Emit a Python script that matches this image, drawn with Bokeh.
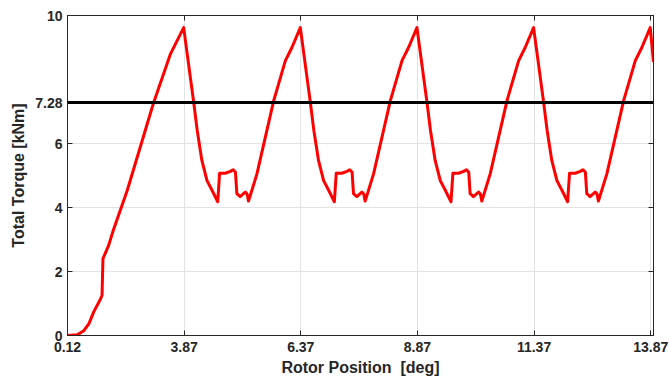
from bokeh.plotting import figure
from bokeh.models import FixedTicker, LinearAxis, Range1d, Span
from bokeh.embed import file_html
from bokeh.resources import INLINE

# ---- data ----
x_ticks = [1.37, 3.87, 6.37, 8.87, 11.37, 13.87]
x_tick_labels = ["0.12", "3.87", "6.37", "8.87", "11.37", "13.87"]
y_ticks = [0, 2, 4, 6, 7.28, 10]
y_tick_labels = ["0", "2", "4", "6", "7.28", "10"]
mean_torque = 7.28

rotor_pos = [
    1.37, 1.58, 1.72, 1.83, 1.93, 2.08, 2.11, 2.13, 2.25, 2.35, 2.65, 3.21, 3.58,
    3.86, 4.07, 4.15, 4.25, 4.36, 4.47, 4.59, 4.63, 4.75, 4.86, 4.92, 4.97, 5.00,
    5.07, 5.18, 5.22, 5.25, 5.43, 5.79, 6.04, 6.18,
    6.36, 6.57, 6.65, 6.75, 6.86, 6.97, 7.09, 7.13, 7.25, 7.36, 7.42, 7.47, 7.50,
    7.57, 7.68, 7.72, 7.75, 7.93, 8.29, 8.54, 8.68,
    8.86, 9.07, 9.15, 9.25, 9.36, 9.47, 9.59, 9.63, 9.75, 9.86, 9.92, 9.97, 10.00,
    10.07, 10.18, 10.22, 10.25, 10.43, 10.79, 11.04, 11.18,
    11.36, 11.57, 11.65, 11.75, 11.86, 11.97, 12.09, 12.13, 12.25, 12.36, 12.42,
    12.47, 12.50, 12.57, 12.68, 12.72, 12.75, 12.93, 13.29, 13.54, 13.68,
    13.86, 13.93,
]
total_torque = [
    0.00, 0.02, 0.15, 0.37, 0.73, 1.15, 1.25, 2.40, 2.81, 3.28, 4.53, 7.25, 8.81,
    9.62, 7.34, 6.41, 5.47, 4.84, 4.53, 4.18, 5.07, 5.07, 5.13, 5.18, 5.10, 4.43,
    4.34, 4.48, 4.42, 4.20, 5.05, 7.34, 8.59, 9.00,
    9.62, 7.34, 6.41, 5.47, 4.84, 4.53, 4.18, 5.07, 5.07, 5.13, 5.18, 5.10, 4.43,
    4.34, 4.48, 4.42, 4.20, 5.05, 7.34, 8.59, 9.00,
    9.62, 7.34, 6.41, 5.47, 4.84, 4.53, 4.18, 5.07, 5.07, 5.13, 5.18, 5.10, 4.43,
    4.34, 4.48, 4.42, 4.20, 5.05, 7.34, 8.59, 9.00,
    9.62, 7.34, 6.41, 5.47, 4.84, 4.53, 4.18, 5.07, 5.07, 5.13, 5.18, 5.10, 4.43,
    4.34, 4.48, 4.42, 4.20, 5.05, 7.34, 8.59, 9.00,
    9.62, 8.55,
]

FONT = "Liberation Sans"
TXT = "#262626"

p = figure(width=669, height=385, output_backend="svg", toolbar_location=None,
           x_range=Range1d(1.37, 13.93), y_range=Range1d(0, 10),
           min_border_left=67, min_border_right=16, min_border_top=15,
           min_border_bottom=50, background_fill_color="white",
           border_fill_color="white")
p.outline_line_color = TXT
p.outline_line_width = 1

xt = FixedTicker(ticks=x_ticks)
yt = FixedTicker(ticks=y_ticks)
xover = {t: l for t, l in zip(x_ticks, x_tick_labels)}
yover = {t: l for t, l in zip(y_ticks, y_tick_labels)}

for ax, tk, ov in ((p.xaxis[0], xt, xover), (p.yaxis[0], yt, yover)):
    ax.ticker = tk
    ax.major_label_overrides = ov
    ax.major_label_text_font = FONT
    ax.major_label_text_font_style = "bold"
    ax.major_label_text_font_size = "14px"
    ax.major_label_text_color = TXT
    ax.axis_line_color = TXT
    ax.major_tick_line_color = TXT
    ax.major_tick_in = 5
    ax.major_tick_out = 0
    ax.minor_tick_line_color = None
    ax.axis_label_text_font = FONT
    ax.axis_label_text_font_style = "bold"
    ax.axis_label_text_font_size = "16px"
    ax.axis_label_text_color = TXT

p.xaxis[0].axis_label = "Rotor Position\u00a0 [deg]"
p.yaxis[0].axis_label = "Total Torque [kNm]"
p.xaxis[0].major_label_standoff = 6
p.xaxis[0].axis_label_standoff = 4
p.yaxis[0].major_label_standoff = 5
p.yaxis[0].axis_label_standoff = 5

# box ticks on top and right
top = LinearAxis(ticker=xt, major_label_overrides={t: "" for t in x_ticks},
                 major_label_text_font_size="1px", major_label_standoff=0,
                 axis_line_color=TXT, major_tick_line_color=TXT,
                 major_tick_in=5, major_tick_out=0, minor_tick_line_color=None)
right = LinearAxis(ticker=yt, major_label_overrides={t: "" for t in y_ticks},
                   major_label_text_font_size="1px", major_label_standoff=0,
                   axis_line_color=TXT, major_tick_line_color=TXT,
                   major_tick_in=5, major_tick_out=0, minor_tick_line_color=None)
p.add_layout(top, "above")
p.add_layout(right, "right")

p.xgrid.ticker = xt
p.ygrid.ticker = FixedTicker(ticks=[2, 4, 6])
p.xgrid.grid_line_color = "#e3e3e3"
p.ygrid.grid_line_color = "#e3e3e3"
p.xgrid.grid_line_width = 1
p.ygrid.grid_line_width = 1

p.line(rotor_pos, total_torque, line_color="#ff0000", line_width=3,
       line_join="round")
p.add_layout(Span(location=mean_torque, dimension="width", line_color="black",
                  line_width=3))

open("out.html", "w").write(file_html(p, INLINE))
